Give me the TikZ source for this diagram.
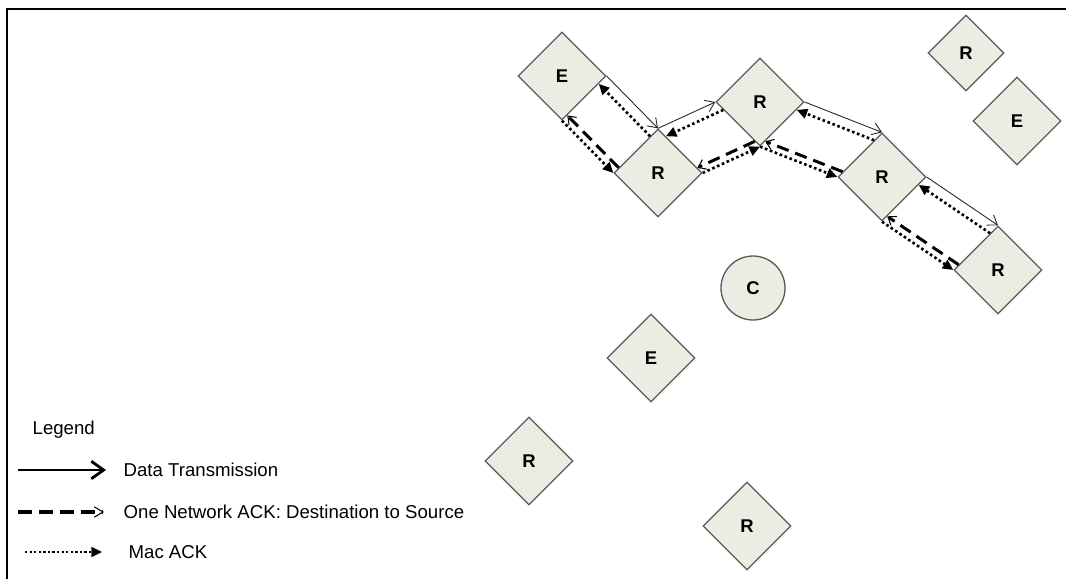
\documentclass[tikz,border=0pt]{standalone}
\usepackage{fontspec}
\setmainfont{Liberation Sans}
\usetikzlibrary{arrows.meta,shapes.geometric,calc}
\definecolor{nodefill}{HTML}{ECECE2}
\definecolor{nodeline}{HTML}{5A5A5A}
\tikzset{every picture/.style={line width=0.75pt}}
\tikzset{
  router/.style={diamond, aspect=1, draw=nodeline, fill=nodefill, minimum size=1.76cm,
    inner sep=0pt, font=\fontsize{10.5}{12}\selectfont\bfseries},
  coord/.style={circle, draw=nodeline, fill=nodefill, minimum size=1.28cm,
    inner sep=0pt, font=\fontsize{10.5}{12}\selectfont\bfseries},
  legtext/.style={anchor=west, inner sep=0pt, font=\fontsize{10.6}{12}\selectfont},
  data/.style={draw=black!85, line width=0.5pt, -{Straight Barb[length=5pt,width=7pt]}},
  netack/.style={line width=1.7pt, dash pattern=on 7pt off 4pt,
    -{Straight Barb[length=4pt,width=6pt,line width=0.6pt]}},
  macack/.style={line width=1.5pt, dash pattern=on 1.5pt off 1.5pt,
    -{Triangle[length=6pt,width=5.5pt]}}
}
\begin{document}
\begin{tikzpicture}[x=0.02cm, y=-0.02cm]
    \useasboundingbox (0,0) rectangle (1066,579);
    % frame
    \draw[line width=1.3pt] (7,579) -- (7,9) -- (1066,9);

    % nodes
    \node[router] (E1) at (562,76) {E};
    \node[router] (R1) at (658,173) {R};
    \node[router] (R2) at (760,102) {R};
    \node[router] (R3) at (882,177) {R};
    \node[router] (R4) at (998,270) {R};
    \node[router, minimum size=1.52cm] (Rtr) at (966,53) {R};
    \node[router] (Etr) at (1017,121) {E};
    \node[coord] (C) at (753,288) {C};
    \node[router] (Elow) at (651,358) {E};
    \node[router] (Rll) at (529,461) {R};
    \node[router] (Rbot) at (747,526) {R};

    % hop E1 -> R1
    \draw[data] (E1.east) -- (R1.north);
    \draw[macack] ([shift={(-4.5pt,-4.5pt)}]R1.north) -- ([shift={(-4.5pt,-4.5pt)}]E1.east);
    \draw[macack] (E1.south) -- (R1.west);
    \draw[netack] ([shift={(3pt,3pt)}]R1.west) -- ([shift={(3pt,3pt)}]E1.south);

    % hop R1 -> R2
    \draw[data] (R1.north) -- (R2.west);
    \draw[macack] ([shift={(4.5pt,-4.5pt)}]R2.west) -- ([shift={(4.5pt,-4.5pt)}]R1.north);
    \draw[macack] (R1.east) -- (R2.south);
    \draw[netack] ([shift={(-3pt,3pt)}]R2.south) -- ([shift={(-3pt,3pt)}]R1.east);

    % hop R2 -> R3
    \draw[data] (R2.east) -- (R3.north);
    \draw[macack] ([shift={(-4.5pt,-4.5pt)}]R3.north) -- ([shift={(-4.5pt,-4.5pt)}]R2.east);
    \draw[macack] (R2.south) -- (R3.west);
    \draw[netack] ([shift={(3pt,3pt)}]R3.west) -- ([shift={(3pt,3pt)}]R2.south);

    % hop R3 -> R4
    \draw[data] (R3.east) -- (R4.north);
    \draw[macack] ([shift={(-4.5pt,-4.5pt)}]R4.north) -- ([shift={(-4.5pt,-4.5pt)}]R3.east);
    \draw[macack] (R3.south) -- (R4.west);
    \draw[netack] ([shift={(3pt,3pt)}]R4.west) -- ([shift={(3pt,3pt)}]R3.south);

    % legend
    \node[legtext] (leg) at (32,430) {Legend};
    \node[legtext] (legdata) at (123,470) {Data Transmission};
    \node[legtext] (legnet) at (123,512) {One Network ACK: Destination to Source};
    \node[legtext] (legmac) at (128,552) {Mac ACK};
    \coordinate (d0) at (18,470);
    \coordinate (d1) at (106,470);
    \coordinate (n0) at (18,512);
    \coordinate (n1) at (104,512);
    \coordinate (m0) at (25,552);
    \coordinate (m1) at (102,552);
    \draw[line width=1.6pt, -{Straight Barb[length=7pt,width=10pt]}] (d0) -- (d1);
    \draw[line width=2pt, dash pattern=on 8pt off 4pt,
      -{Straight Barb[length=5pt,width=6pt,line width=0.6pt]}] (n0) -- (n1);
    \draw[line width=1.3pt, dash pattern=on 1.3pt off 1.3pt,
      -{Triangle[length=6pt,width=5.5pt]}] (m0) -- (m1);
\end{tikzpicture}
\end{document}
